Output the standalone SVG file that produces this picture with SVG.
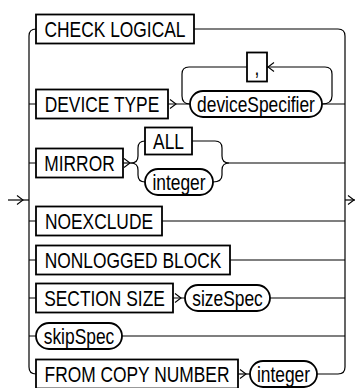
<svg xmlns="http://www.w3.org/2000/svg" width="357" height="388" viewBox="0 0 357 388">
<style>
.bx{fill:#fff;stroke:#000;stroke-width:1.8}
.ln{fill:none;stroke:#000;stroke-width:1.2}
.ar{fill:none;stroke:#000;stroke-width:1.1}
text{font-family:"Liberation Sans",Arial,sans-serif;font-size:22px;fill:#000;text-anchor:middle}
</style>
<rect width="357" height="388" fill="#fff"/>
<g id="connectors">
<path class="ln" d="M8,200 L29,200"/>
<path class="ar" d="M17,195.5 L23,200 L17,204.5"/>
<path class="ln" d="M36,29 Q29,29 29,36 L29,367 Q29,374 36,374"/>
<path class="ln" d="M29,104 H36 M29,163 H36 M29,221 H36 M29,260 H36 M29,298 H36 M29,336 H36"/>
<path class="ln" d="M194,29 L338,29 Q345,29 345,36 L345,367 Q345,374 338,374 L317,374"/>
<path class="ln" d="M345,200 L355,200"/>
<path class="ar" d="M348,195.5 L354,200 L348,204.5"/>
<path class="ln" d="M168,104 L190,104 M322,104 L345,104"/>
<path class="ar" d="M170,99.5 L176,104 L170,108.5"/>
<path class="ln" d="M190,104 Q182,104 182,96 L182,74 Q182,67 189,67 L247,67"/>
<path class="ln" d="M322,104 Q332,104 332,96 L332,74 Q332,67 325,67 L267,67"/>
<path class="ar" d="M274,62.5 L268,67 L274,71.5"/>
<path class="ln" d="M123,163 L131,163"/>
<path class="ar" d="M124,158.5 L130,163 L124,167.5"/>
<path class="ln" d="M131,163 Q138,163 138,156 L138,148 Q138,141 145,141"/>
<path class="ln" d="M131,163 Q138,163 138,170 L138,175 Q138,182 145,182"/>
<path class="ln" d="M192,141 L215,141 Q222,141 222,148 L222,156 Q222,163 229,163 L345,163"/>
<path class="ln" d="M213,182 Q222,182 222,175 L222,170 Q222,163 229,163"/>
<path class="ln" d="M162,221 L345,221"/>
<path class="ln" d="M230,260 L345,260"/>
<path class="ln" d="M173,298 L185,298 M270,298 L345,298"/>
<path class="ar" d="M175,293.5 L181,298 L175,302.5"/>
<path class="ln" d="M122,336 L345,336"/>
<path class="ln" d="M238,374 L250,374"/>
<path class="ar" d="M240,369.5 L246,374 L240,378.5"/>
</g>
<g id="check-logical"><rect class="bx" x="36" y="14.5" width="158" height="29"/><text transform="translate(115,37) scale(0.79,1)">CHECK LOGICAL</text></g>
<g id="comma"><rect class="bx" x="247" y="52.5" width="20" height="29"/><text transform="translate(257,75) scale(0.79,1)">,</text></g>
<g id="device-type"><rect class="bx" x="36" y="89.5" width="132" height="29"/><text transform="translate(102,112) scale(0.79,1)">DEVICE TYPE</text></g>
<g id="deviceSpecifier"><rect class="bx" x="190" y="91" width="132" height="26" rx="13"/><text transform="translate(256,111.5) scale(0.79,1)">deviceSpecifier</text></g>
<g id="mirror"><rect class="bx" x="36" y="148.5" width="87" height="29"/><text transform="translate(79.5,171) scale(0.79,1)">MIRROR</text></g>
<g id="all"><rect class="bx" x="145" y="127.5" width="47" height="27"/><text transform="translate(168.5,149) scale(0.79,1)">ALL</text></g>
<g id="integer1"><rect class="bx" x="145" y="169" width="68" height="26" rx="13"/><text transform="translate(179,189.5) scale(0.79,1)">integer</text></g>
<g id="noexclude"><rect class="bx" x="36" y="206.5" width="126" height="29"/><text transform="translate(99,229) scale(0.79,1)">NOEXCLUDE</text></g>
<g id="nonlogged-block"><rect class="bx" x="36" y="245.5" width="194" height="29"/><text transform="translate(133,268) scale(0.79,1)">NONLOGGED BLOCK</text></g>
<g id="section-size"><rect class="bx" x="36" y="283.5" width="137" height="29"/><text transform="translate(104.5,306) scale(0.79,1)">SECTION SIZE</text></g>
<g id="sizeSpec"><rect class="bx" x="185" y="285" width="85" height="26" rx="13"/><text transform="translate(227.5,305.5) scale(0.79,1)">sizeSpec</text></g>
<g id="skipSpec"><rect class="bx" x="36" y="323" width="86" height="26" rx="13"/><text transform="translate(79,343.5) scale(0.79,1)">skipSpec</text></g>
<g id="from-copy-number"><rect class="bx" x="36" y="359.5" width="202" height="29"/><text transform="translate(137,382) scale(0.79,1)">FROM COPY NUMBER</text></g>
<g id="integer2"><rect class="bx" x="250" y="361" width="67" height="26" rx="13"/><text transform="translate(283.5,381.5) scale(0.79,1)">integer</text></g>
</svg>
